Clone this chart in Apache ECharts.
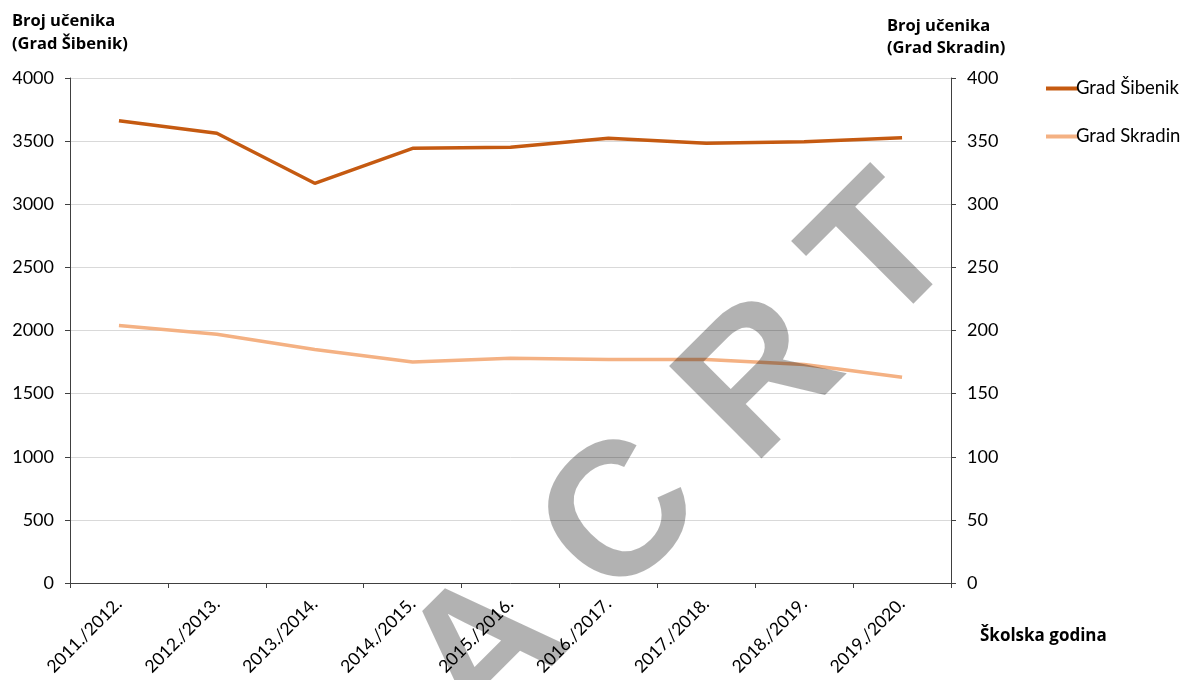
<!DOCTYPE html>
<html>
<head>
<meta charset="utf-8">
<script src="https://cdn.jsdelivr.net/npm/echarts@6/dist/echarts.min.js"></script>
<style>
html,body{margin:0;padding:0;background:#fff;}
#chart{width:1183px;height:680px;}
</style>
</head>
<body>
<div id="chart"></div>
<script>
const categories = ['2011./2012.','2012./2013.','2013./2014.','2014./2015.','2015./2016.','2016./2017.','2017./2018.','2018./2019.','2019./2020.'];
const sibenik = [3662, 3562, 3166, 3443, 3451, 3522, 3483, 3495, 3527];
const skradin = [204, 197, 185, 175, 178, 177, 177, 173, 163];
const seriesNames = ['Grad Šibenik', 'Grad Skradin'];
const leftTitle = ['Broj učenika', '(Grad Šibenik)'];
const rightTitle = ['Broj učenika', '(Grad Skradin)'];
const xTitle = 'Školska godina';
const watermark = ['A', 'C', 'R', 'T'];

const FONT = 'Lato';
const TFONT = 'Open Sans';
const chart = echarts.init(document.getElementById('chart'), null, {renderer: 'canvas'});

const wmCenters = [[489, 655], [624, 520], [764, 382], [886, 257]];

const option = {
  backgroundColor: '#ffffff',
  animation: false,
  grid: {left: 70, right: 232, top: 78, bottom: 97, containLabel: false},
  legend: {
    orient: 'vertical',
    left: 1041,
    top: 73,
    itemWidth: 32,
    itemHeight: 4,
    itemGap: 27,
    icon: 'rect',
    textStyle: {fontFamily: FONT, fontSize: 18.5, color: '#000', lineHeight: 21, padding: [0,0,0,-7]},
    data: seriesNames
  },
  xAxis: {
    type: 'category',
    data: categories,
    boundaryGap: true,
    axisLine: {show: true, lineStyle: {color: '#404040', width: 1}},
    axisTick: {show: true, alignWithLabel: false, length: 5, lineStyle: {color: '#404040'}},
    axisLabel: {rotate: 45, fontFamily: FONT, fontSize: 17.5, color: '#000', margin: 18, interval: 0},
    splitLine: {show: false}
  },
  yAxis: [
    {
      type: 'value', min: 0, max: 4000, interval: 500,
      axisLine: {show: true, lineStyle: {color: '#404040', width: 1}},
      axisTick: {show: true, length: 5, lineStyle: {color: '#404040'}},
      axisLabel: {fontFamily: FONT, fontSize: 18, color: '#000', margin: 16, formatter: v => String(v)},
      splitLine: {show: true, lineStyle: {color: '#d9d9d9', width: 1}}
    },
    {
      type: 'value', min: 0, max: 400, interval: 50, position: 'right',
      axisLine: {show: true, lineStyle: {color: '#404040', width: 1}},
      axisTick: {show: true, length: 5, lineStyle: {color: '#404040'}},
      axisLabel: {fontFamily: FONT, fontSize: 18, color: '#000', margin: 16, formatter: v => String(v)},
      splitLine: {show: false}
    }
  ],
  series: [
    {
      name: seriesNames[0], type: 'line', yAxisIndex: 0, data: sibenik,
      showSymbol: false, symbol: 'none',
      lineStyle: {color: '#c55a11', width: 3.5}, itemStyle: {color: '#c55a11'}, z: 3
    },
    {
      name: seriesNames[1], type: 'line', yAxisIndex: 1, data: skradin,
      showSymbol: false, symbol: 'none',
      lineStyle: {color: '#f4b183', width: 3.5}, itemStyle: {color: '#f4b183'}, z: 2
    }
  ],
  graphic: [
    {type: 'text', left: 12, top: 10, style: {text: leftTitle.join('\n'), fontFamily: TFONT, fontWeight: 'bold', fontSize: 16.5, lineHeight: 23, fill: '#000'}},
    {type: 'text', left: 887, top: 15, style: {text: rightTitle.join('\n'), fontFamily: TFONT, fontWeight: 'bold', fontSize: 16.5, lineHeight: 22, fill: '#000'}},
    {type: 'text', left: 980, top: 628, style: {text: xTitle, fontFamily: TFONT, fontWeight: 'bold', fontSize: 17, fill: '#000'}}
  ].concat(watermark.map((ch, i) => ({
    type: 'text', x: wmCenters[i][0], y: wmCenters[i][1], rotation: Math.PI / 4, z: 100, silent: true,
    style: {text: ch, font: 'bold 190px "Liberation Sans"', fill: 'rgba(0,0,0,0.3)', align: 'center', verticalAlign: 'middle'}
  })))
};
chart.setOption(option);
</script>
</body>
</html>
